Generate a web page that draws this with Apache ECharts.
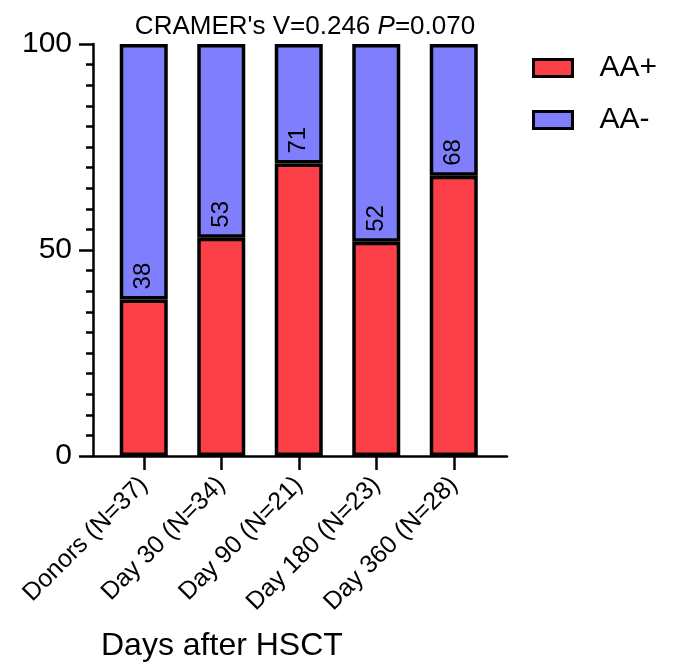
<!DOCTYPE html>
<html>
<head>
<meta charset="utf-8">
<script src="https://cdn.jsdelivr.net/npm/echarts@6/dist/echarts.min.js"></script>
<style>
  html, body { margin: 0; padding: 0; background: #fff; }
  #chart { width: 677px; height: 667px; }
</style>
</head>
<body>
<div id="chart"></div>
<script>
// Groups along the x axis
var categories = ['Donors (N=37)', 'Day 30 (N=34)', 'Day 90 (N=21)', 'Day 180 (N=23)', 'Day 360 (N=28)'];
// Percent of samples per group
var aaPlus = [38, 53, 71, 52, 68];
var aaMinus = [62, 47, 29, 48, 32];
var yTicks = [0, 50, 100];

var FONT = 'Liberation Sans, Arial, sans-serif';
var BLACK_LINE = { color: '#000', width: 2.5 };

var chart = echarts.init(document.getElementById('chart'));
chart.setOption({
  animation: false,
  textStyle: { fontFamily: FONT, color: '#000' },
  title: [
    {
      text: "CRAMER's V=0.246 {i|P}=0.070",
      left: 300,
      top: 9,
      textAlign: 'center',
      textStyle: {
        fontFamily: FONT, fontSize: 26, fontWeight: 'normal', color: '#000',
        rich: { i: { fontFamily: FONT, fontSize: 26, fontStyle: 'italic', color: '#000' } }
      }
    },
    {
      text: 'Days after HSCT',
      left: 101,
      top: 630,
      padding: 0,
      textStyle: { fontFamily: FONT, fontSize: 32, fontWeight: 'normal', color: '#000' }
    }
  ],
  legend: {
    orient: 'vertical',
    left: 532,
    top: 53,
    icon: 'rect',
    itemWidth: 39,
    itemHeight: 17,
    itemGap: 22,
    padding: 0,
    itemStyle: { borderWidth: 3, borderColor: '#000' },
    textStyle: { fontFamily: FONT, fontSize: 30, color: '#000', padding: [0, 0, 0, 22] },
    data: ['AA+', 'AA-']
  },
  // grid 0 carries the frame (y axis and full-length baseline); grid 1 holds the bars
  grid: [
    { left: 93, right: 170, top: 44, bottom: 211, containLabel: false },
    { left: 105, right: 184.5, top: 44, bottom: 211, containLabel: false }
  ],
  xAxis: [
    {
      gridIndex: 0,
      type: 'value',
      min: 0,
      max: 1,
      splitLine: { show: false },
      axisLine: { show: true, onZero: false, lineStyle: BLACK_LINE },
      axisTick: { show: false },
      axisLabel: { show: false }
    },
    {
      gridIndex: 1,
      type: 'category',
      data: categories,
      boundaryGap: true,
      axisLine: { show: false },
      axisTick: { show: true, alignWithLabel: true, length: 14, lineStyle: BLACK_LINE },
      axisLabel: {
        rotate: 45,
        margin: 25,
        fontSize: 25,
        color: '#000',
        fontFamily: FONT,
        interval: 0
      }
    }
  ],
  yAxis: [
    {
      gridIndex: 0,
      type: 'value',
      min: 0,
      max: 100,
      interval: 50,
      splitLine: { show: false },
      minorSplitLine: { show: false },
      axisLine: { show: true, lineStyle: BLACK_LINE },
      axisTick: { show: true, length: 14, lineStyle: BLACK_LINE },
      minorTick: { show: true, splitNumber: 10, length: 7, lineStyle: BLACK_LINE },
      axisLabel: {
        margin: 21,
        fontSize: 30,
        color: '#000',
        fontFamily: FONT,
        customValues: yTicks
      }
    },
    {
      gridIndex: 1,
      type: 'value',
      min: 0,
      max: 100,
      show: false
    }
  ],
  series: [
    {
      name: 'AA+',
      type: 'bar',
      xAxisIndex: 1,
      yAxisIndex: 1,
      stack: 'pct',
      z: 3,
      barWidth: 48,
      data: aaPlus,
      itemStyle: { color: '#fc3e46', borderColor: '#000', borderWidth: 3.5 },
      label: {
        show: true,
        position: 'top',
        rotate: 90,
        align: 'left',
        verticalAlign: 'middle',
        distance: 10,
        fontSize: 24,
        fontFamily: FONT,
        color: '#000'
      }
    },
    {
      name: 'AA-',
      type: 'bar',
      xAxisIndex: 1,
      yAxisIndex: 1,
      stack: 'pct',
      z: 2,
      barWidth: 48,
      data: aaMinus,
      itemStyle: { color: '#7f7ffe', borderColor: '#000', borderWidth: 3.5 }
    }
  ]
});
</script>
</body>
</html>
